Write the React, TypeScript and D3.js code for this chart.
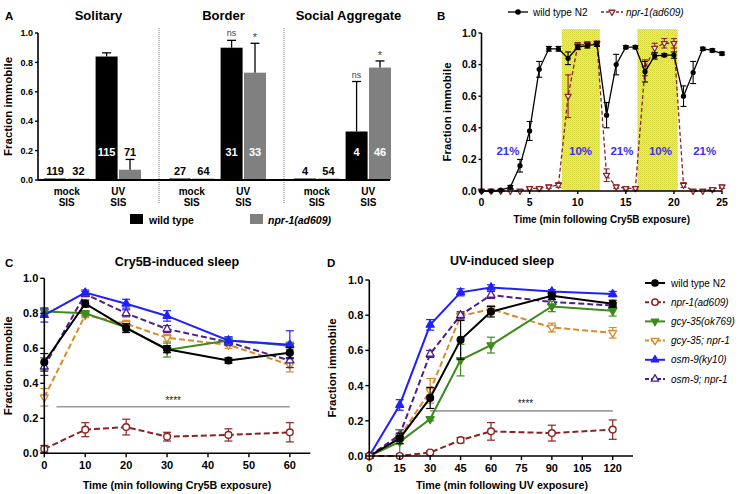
import React from "react";
import * as d3 from "d3";

const FONT = "'Liberation Sans', Arial, Helvetica, sans-serif";

// ---------------- Panel A data ----------------
const aSections = ["Solitary", "Border", "Social Aggregate"];
const aConditions = ["mock", "UV"];
const aGenotypes = ["wild type", "npr-1(ad609)"];
const aWtMean = [0.01, 0.84, 0.01, 0.9, 0.01, 0.33];
const aWtErr = [0, 0.025, 0, 0.05, 0, 0.34];
const aNprMean = [0.01, 0.07, 0.01, 0.73, 0.01, 0.765];
const aNprErr = [0, 0.07, 0, 0.2, 0, 0.045];
const aWtN = [119, 115, 27, 31, 4, 4];
const aNprN = [32, 71, 64, 33, 54, 46];
const aWtSig = ["", "", "", "ns", "", "ns"];
const aNprSig = ["", "", "", "*", "", "*"];
const aTicks = [0, 0.2, 0.4, 0.6, 0.8, 1.0];

// ---------------- Panel B data ----------------
const bTime = [0, 1, 2, 3, 4, 5, 6, 7, 8, 9, 10, 11, 12, 13, 14, 15, 16, 17, 18, 19, 20, 21, 22, 23, 24, 25];
const bWt = [0, 0, 0.005, 0.025, 0.16, 0.38, 0.77, 0.9, 0.9, 0.84, 0.91, 0.92, 0.93, 0.48, 0.8, 0.91, 0.91, 0.755, 0.855, 0.86, 0.86, 0.6, 0.75, 0.9, 0.89, 0.87];
const bWtErr = [0, 0, 0.005, 0.01, 0.04, 0.06, 0.05, 0.015, 0.015, 0.04, 0.015, 0.015, 0.015, 0.08, 0.065, 0.01, 0.01, 0.065, 0.02, 0.01, 0.02, 0.065, 0.07, 0.01, 0.01, 0.01];
const bNpr = [0, 0, 0, 0, 0, 0.017, 0.017, 0.027, 0.038, 0.6, 0.92, 0.93, 0.935, 0.1, 0.027, 0.017, 0.017, 0.78, 0.905, 0.935, 0.935, 0.038, 0, 0, 0.01, 0.027];
const bNprErr = [0, 0, 0, 0, 0, 0.01, 0.01, 0.01, 0.015, 0.135, 0.02, 0.015, 0.015, 0.04, 0.01, 0.01, 0.01, 0.05, 0.03, 0.03, 0.03, 0.015, 0, 0, 0.01, 0.01];
const bHypoxiaStart = [8.35, 16.2];
const bHypoxiaEnd = [12.3, 20.4];
const bPctLabels = ["21%", "10%", "21%", "10%", "21%"];
const bPctTime = [2.75, 10.3, 14.6, 18.6, 23.2];
const bXTicks = [0, 5, 10, 15, 20, 25];
const bNames = ["wild type N2", "npr-1(ad609)"];

// ---------------- Panels C / D data ----------------
const cdNames = ["wild type N2", "npr-1(ad609)", "gcy-35(ok769)", "gcy-35; npr-1", "osm-9(ky10)", "osm-9; npr-1"];

const cTime = [0, 10, 20, 30, 45, 60];
const cWt = [0.52, 0.855, 0.715, 0.595, 0.53, 0.575];
const cWtErr = [0.05, 0.02, 0.025, 0.02, 0.015, 0.03];
const cNpr = [0.025, 0.135, 0.15, 0.095, 0.105, 0.12];
const cNprErr = [0.02, 0.04, 0.045, 0.025, 0.035, 0.055];
const cGcy = [0.81, 0.8, 0.72, 0.59, 0.645, 0.615];
const cGcyErr = [0.02, 0.015, 0.02, 0.04, 0.02, 0.02];
const cGcyNpr = [0.32, 0.79, 0.74, 0.66, 0.62, 0.505];
const cGcyNprErr = [0.05, 0.015, 0.02, 0.02, 0.02, 0.04];
const cOsm = [0.79, 0.918, 0.855, 0.785, 0.645, 0.62];
const cOsmErr = [0.04, 0.015, 0.025, 0.03, 0.02, 0.08];
const cOsmNpr = [0.495, 0.91, 0.8, 0.71, 0.635, 0.53];
const cOsmNprErr = [0.05, 0.015, 0.02, 0.02, 0.02, 0.04];
const cXTicks = [0, 10, 20, 30, 40, 50, 60];
const cSigFrom = 3;
const cSigTo = 60;
const cSigLevel = 0.266;

const dTime = [0, 15, 30, 45, 60, 90, 120];
const dWt = [0, 0.1, 0.33, 0.66, 0.82, 0.91, 0.865];
const dWtErr = [0, 0.03, 0.06, 0.11, 0.03, 0.02, 0.02];
const dNpr = [0, 0, 0.02, 0.09, 0.14, 0.13, 0.15];
const dNprErr = [0, 0, 0.01, 0.015, 0.05, 0.045, 0.055];
const dGcy = [0, 0.08, 0.21, 0.545, 0.63, 0.85, 0.825];
const dGcyErr = [0, 0.07, 0.01, 0.09, 0.045, 0.03, 0.03];
const dGcyNpr = [0, 0.11, 0.37, 0.795, 0.835, 0.73, 0.7];
const dGcyNprErr = [0, 0.04, 0.07, 0.02, 0.02, 0.025, 0.03];
const dOsm = [0, 0.29, 0.745, 0.93, 0.958, 0.935, 0.92];
const dOsmErr = [0, 0.03, 0.03, 0.02, 0.015, 0.01, 0.015];
const dOsmNpr = [0, 0.12, 0.58, 0.8, 0.915, 0.875, 0.855];
const dOsmNprErr = [0, 0.03, 0.02, 0.02, 0.02, 0.015, 0.015];
const dXTicks = [0, 15, 30, 45, 60, 75, 90, 105, 120];
const dSigFrom = 30;
const dSigTo = 120;
const dSigLevel = 0.256;

const yTicks = [0, 0.2, 0.4, 0.6, 0.8, 1.0];

// ---------------- styles ----------------
const RED = "#8B2323";
const cdStyles = [
  { color: "#000000", dash: "", marker: "circle", filled: true, italic: false },
  { color: RED, dash: "6,3", marker: "circle", filled: false, italic: true },
  { color: "#3E8A1E", dash: "", marker: "triDown", filled: true, italic: true },
  { color: "#D98A2B", dash: "6,3", marker: "triDown", filled: false, italic: true },
  { color: "#2020FF", dash: "", marker: "triUp", filled: true, italic: true },
  { color: "#4B1F8E", dash: "6,3", marker: "triUp", filled: false, italic: true },
];
const drawOrder = [3, 5, 2, 4, 0, 1];

function triPath(x: number, y: number, s: number, down: boolean) {
  const h = s * 0.866;
  if (!down) return `M${x},${y - (2 * h) / 3}L${x + s / 2},${y + h / 3}L${x - s / 2},${y + h / 3}Z`;
  return `M${x},${y + (2 * h) / 3}L${x + s / 2},${y - h / 3}L${x - s / 2},${y - h / 3}Z`;
}

function Marker({ kind, filled, color, x, y, s }: any) {
  const fill = filled ? color : "#fff";
  if (kind === "circle")
    return <circle cx={x} cy={y} r={s * 0.42} fill={fill} stroke={color} strokeWidth={1.4} />;
  return <path d={triPath(x, y, s, kind === "triDown")} fill={fill} stroke={color} strokeWidth={1.3} strokeLinejoin="round" />;
}

function ErrBar({ x, y1, y2, w, color, sw = 1.2 }: any) {
  return (
    <g stroke={color} strokeWidth={sw}>
      <line x1={x} x2={x} y1={y1} y2={y2} />
      <line x1={x - w / 2} x2={x + w / 2} y1={y1} y2={y1} />
      <line x1={x - w / 2} x2={x + w / 2} y1={y2} y2={y2} />
    </g>
  );
}

function YAxis({ y, x, ticks, fs, tick = 4, top, bottom }: any) {
  return (
    <g>
      <line x1={x} x2={x} y1={top} y2={bottom} stroke="#000" strokeWidth={1.6} />
      {ticks.map((t: number) => (
        <g key={t}>
          <line x1={x - tick} x2={x} y1={y(t)} y2={y(t)} stroke="#000" strokeWidth={1.4} />
          <text x={x - tick - 2} y={y(t) + fs * 0.36} textAnchor="end" fontSize={fs} fontWeight="bold" fontFamily={FONT}>
            {t.toFixed(1)}
          </text>
        </g>
      ))}
    </g>
  );
}

function XAxis({ x, y0, ticks, fs, tick = 4, left, right }: any) {
  return (
    <g>
      <line x1={left} x2={right} y1={y0} y2={y0} stroke="#000" strokeWidth={1.6} />
      {ticks.map((t: number) => (
        <g key={t}>
          <line x1={x(t)} x2={x(t)} y1={y0} y2={y0 + tick} stroke="#000" strokeWidth={1.4} />
          <text x={x(t)} y={y0 + tick + fs + 1} textAnchor="middle" fontSize={fs} fontWeight="bold" fontFamily={FONT}>
            {t}
          </text>
        </g>
      ))}
    </g>
  );
}

function LinePanel({ x, y, time, series, errs, capW, msize }: any) {
  return (
    <g>
      {drawOrder.map((si) => {
        const st = cdStyles[si];
        const vals: number[] = series[si];
        const line = d3
          .line<number>()
          .x((_, i) => x(time[i]))
          .y((d) => y(d));
        return (
          <g key={si}>
            <path d={line(vals) || ""} fill="none" stroke={st.color} strokeWidth={2} strokeDasharray={st.dash || undefined} />
            {vals.map((v, i) =>
              errs[si][i] > 0 ? (
                <ErrBar key={"e" + i} x={x(time[i])} y1={y(v + errs[si][i])} y2={y(v - errs[si][i])} w={capW} color={st.color} />
              ) : null
            )}
            {vals.map((v, i) => (
              <Marker key={"m" + i} kind={st.marker} filled={st.filled} color={st.color} x={x(time[i])} y={y(v)} s={msize} />
            ))}
          </g>
        );
      })}
    </g>
  );
}

export default function App() {
  // ---------- Panel A ----------
  const yA = d3.scaleLinear().domain([0, 1]).range([180, 33]);
  const xSec = d3.scaleBand<string>().domain(aSections).range([34, 409]);
  const xCond = d3.scaleBand<string>().domain(aConditions).range([10, 107]).paddingInner(0.12);
  const xGen = d3.scaleBand<string>().domain(aGenotypes).range([0, xCond.bandwidth()]).paddingInner(0.06);
  const aMeans = [aWtMean, aNprMean];
  const aErrs = [aWtErr, aNprErr];
  const aNs = [aWtN, aNprN];
  const aSigs = [aWtSig, aNprSig];
  const aFill = ["#000000", "#808080"];

  // ---------- Panel B ----------
  const xB = d3.scaleLinear().domain([0, 25]).range([481.5, 722]);
  const yB = d3.scaleLinear().domain([0, 1]).range([191, 33]);
  const lineB = (vals: number[]) =>
    d3
      .line<number>()
      .x((_, i) => xB(bTime[i]))
      .y((d) => yB(d))(vals) || "";

  // ---------- Panel C ----------
  const xC = d3.scaleLinear().domain([0, 65]).range([44.3, 310.3]);
  const yC = d3.scaleLinear().domain([0, 1]).range([453.3, 278.3]);
  const cSeries = [cWt, cNpr, cGcy, cGcyNpr, cOsm, cOsmNpr];
  const cErrs = [cWtErr, cNprErr, cGcyErr, cGcyNprErr, cOsmErr, cOsmNprErr];

  // ---------- Panel D ----------
  const xD = d3.scaleLinear().domain([0, 130]).range([369.3, 633]);
  const yD = d3.scaleLinear().domain([0, 1]).range([456, 280]);
  const dSeries = [dWt, dNpr, dGcy, dGcyNpr, dOsm, dOsmNpr];
  const dErrs = [dWtErr, dNprErr, dGcyErr, dGcyNprErr, dOsmErr, dOsmNprErr];

  return (
    <svg width={740} height={494} style={{ position: "absolute", left: 0, top: 0, background: "#fff" }} fontFamily={FONT}>
      <defs>
        <pattern id="yel" width={2} height={2} patternUnits="userSpaceOnUse">
          <rect width={2} height={2} fill="#EFEF60" />
          <rect width={1} height={1} fill="#D2D23A" />
          <rect x={1} y={1} width={1} height={1} fill="#DEDE48" />
        </pattern>
      </defs>
      <rect width={740} height={494} fill="#fff" />

      {/* ================= Panel A ================= */}
      <text x={5} y={20} fontSize={11.5} fontWeight="bold">A</text>
      {aSections.map((s) => (
        <text key={s} x={(xSec(s) as number) + xSec.bandwidth() / 2 + 2} y={20} fontSize={13} fontWeight="bold" textAnchor="middle">
          {s}
        </text>
      ))}
      {aSections.slice(1).map((s) => (
        <line key={s} x1={xSec(s) as number} x2={xSec(s) as number} y1={28} y2={204} stroke="#777" strokeWidth={1} strokeDasharray="1,1" />
      ))}
      {aSections.map((s, i) =>
        aConditions.map((c, j) => {
          const idx = i * 2 + j;
          const gx = (xSec(s) as number) + (xCond(c) as number);
          return (
            <g key={s + c}>
              {aGenotypes.map((g, k) => {
                const v = aMeans[k][idx];
                const e = aErrs[k][idx];
                const bx = gx + (xGen(g) as number);
                const bw = xGen.bandwidth();
                const cx = bx + bw / 2;
                const top = yA(v);
                const isUV = c === "UV";
                const labY = isUV ? 156 : top - 4;
                const white = isUV && top < 145;
                return (
                  <g key={g}>
                    <rect x={bx} y={top} width={bw} height={yA(0) - top} fill={aFill[k]} />
                    {e > 0 && (
                      <g stroke="#000" strokeWidth={1.3}>
                        <line x1={cx} x2={cx} y1={top} y2={yA(v + e)} />
                        <line x1={cx - 4.5} x2={cx + 4.5} y1={yA(v + e)} y2={yA(v + e)} />
                      </g>
                    )}
                    {aSigs[k][idx] && (
                      <text x={cx} y={yA(v + e) - (aSigs[k][idx] === "*" ? 2 : 4)} textAnchor="middle" fontSize={aSigs[k][idx] === "*" ? 11 : 9} fill="#444">
                        {aSigs[k][idx]}
                      </text>
                    )}
                    <text x={cx} y={labY} textAnchor="middle" fontSize={11} fontWeight="bold" fill={white ? "#fff" : "#000"}>
                      {aNs[k][idx]}
                    </text>
                  </g>
                );
              })}
              <text x={gx + xCond.bandwidth() / 2} y={195} textAnchor="middle" fontSize={10} fontWeight="bold">{c}</text>
              <text x={gx + xCond.bandwidth() / 2} y={206} textAnchor="middle" fontSize={10} fontWeight="bold">SIS</text>
            </g>
          );
        })
      )}
      <line x1={38} x2={390} y1={yA(0)} y2={yA(0)} stroke="#000" strokeWidth={2} />
      <YAxis y={yA} x={38} ticks={aTicks} fs={9} tick={3} top={yA(1)} bottom={yA(0)} />
      <text transform={`translate(12,${(yA(0) + yA(1)) / 2}) rotate(-90)`} textAnchor="middle" fontSize={11.5} fontWeight="bold">
        Fraction immobile
      </text>
      {aGenotypes.map((g, k) => (
        <g key={g}>
          <rect x={130 + k * 120} y={214} width={13} height={10} fill={aFill[k]} />
          <text x={149 + k * 119} y={223.5} fontSize={10.5} fontWeight="bold" fontStyle={k === 1 ? "italic" : "normal"}>
            {g}
          </text>
        </g>
      ))}

      {/* ================= Panel B ================= */}
      <text x={437} y={20} fontSize={11.5} fontWeight="bold">B</text>
      {bHypoxiaStart.map((s, i) => (
        <rect key={i} x={xB(s)} y={yB(1.025)} width={xB(bHypoxiaEnd[i]) - xB(s)} height={yB(0) - yB(1.025)} fill="url(#yel)" />
      ))}
      {bPctLabels.map((l, i) => (
        <text key={i} x={xB(bPctTime[i])} y={yB(0.255) + 4} textAnchor="middle" fontSize={11.5} fontWeight="bold" fill="#3A30E8">
          {l}
        </text>
      ))}
      <path d={lineB(bNpr)} fill="none" stroke={RED} strokeWidth={1.3} strokeDasharray="4,2.5" />
      {bNpr.map((v, i) =>
        bNprErr[i] > 0 ? <ErrBar key={"ne" + i} x={xB(bTime[i])} y1={yB(v + bNprErr[i])} y2={yB(v - bNprErr[i])} w={6} color={RED} sw={1.1} /> : null
      )}
      {bNpr.map((v, i) => (
        <Marker key={"nm" + i} kind="triDown" filled={false} color={RED} x={xB(bTime[i])} y={yB(v)} s={6} />
      ))}
      <path d={lineB(bWt)} fill="none" stroke="#000" strokeWidth={1.3} />
      {bWt.map((v, i) =>
        bWtErr[i] > 0.008 ? <ErrBar key={"we" + i} x={xB(bTime[i])} y1={yB(v + bWtErr[i])} y2={yB(v - bWtErr[i])} w={6} color="#000" sw={1.1} /> : null
      )}
      {bWt.map((v, i) => (
        <circle key={"wm" + i} cx={xB(bTime[i])} cy={yB(v)} r={2.6} fill="#000" />
      ))}
      <YAxis y={yB} x={481.5} ticks={yTicks} fs={10.5} tick={3} top={yB(1)} bottom={yB(0)} />
      <XAxis x={xB} y0={yB(0)} ticks={bXTicks} fs={10.5} tick={3} left={481.5} right={722} />
      <text x={(xB(0) + xB(25)) / 2} y={222.5} textAnchor="middle" fontSize={10} fontWeight="bold">
        Time (min following Cry5B exposure)
      </text>
      <text transform={`translate(451,${(yB(0) + yB(1)) / 2}) rotate(-90)`} textAnchor="middle" fontSize={11.5} fontWeight="bold">
        Fraction immobile
      </text>
      {/* legend B */}
      <line x1={508} x2={528} y1={12} y2={12} stroke="#000" strokeWidth={1.3} />
      <circle cx={518} cy={12} r={2.8} fill="#000" />
      <text x={533} y={15.5} fontSize={10}>{bNames[0]}</text>
      <line x1={601} x2={623} y1={12} y2={12} stroke={RED} strokeWidth={1.3} strokeDasharray="3,2" />
      <Marker kind="triDown" filled={false} color={RED} x={612} y={12} s={6} />
      <text x={626} y={15.5} fontSize={10} fontStyle="italic">{bNames[1]}</text>

      {/* ================= Panel C ================= */}
      <text x={5} y={267} fontSize={11.5} fontWeight="bold">C</text>
      <text x={177} y={266} textAnchor="middle" fontSize={12.5} fontWeight="bold">Cry5B-induced sleep</text>
      <line x1={xC(cSigFrom)} x2={xC(cSigTo)} y1={yC(cSigLevel)} y2={yC(cSigLevel)} stroke="#999" strokeWidth={1.3} />
      <text x={xC((cSigFrom + cSigTo) / 2)} y={yC(cSigLevel) - 3} textAnchor="middle" fontSize={10} fill="#222">****</text>
      <LinePanel x={xC} y={yC} time={cTime} series={cSeries} errs={cErrs} capW={8} msize={8} />
      <YAxis y={yC} x={44.3} ticks={yTicks} fs={11} tick={4} top={yC(1)} bottom={yC(0)} />
      <XAxis x={xC} y0={yC(0)} ticks={cXTicks} fs={11} tick={4} left={44.3} right={310.3} />
      <text x={177} y={489} textAnchor="middle" fontSize={10.7} fontWeight="bold">Time (min following Cry5B exposure)</text>
      <text transform={`translate(12,${(yC(0) + yC(1)) / 2}) rotate(-90)`} textAnchor="middle" fontSize={11.5} fontWeight="bold">
        Fraction immobile
      </text>

      {/* ================= Panel D ================= */}
      <text x={327} y={267} fontSize={11.5} fontWeight="bold">D</text>
      <text x={502} y={265} textAnchor="middle" fontSize={12.5} fontWeight="bold">UV-induced sleep</text>
      <line x1={xD(dSigFrom)} x2={xD(dSigTo)} y1={yD(dSigLevel)} y2={yD(dSigLevel)} stroke="#555" strokeWidth={1} />
      <text x={xD(77)} y={yD(dSigLevel) - 4} textAnchor="middle" fontSize={10} fill="#222">****</text>
      <LinePanel x={xD} y={yD} time={dTime} series={dSeries} errs={dErrs} capW={8} msize={8} />
      <YAxis y={yD} x={369.3} ticks={yTicks} fs={11} tick={4} top={yD(1)} bottom={yD(0)} />
      <XAxis x={xD} y0={yD(0)} ticks={dXTicks} fs={11} tick={4} left={369.3} right={633} />
      <text x={502} y={489} textAnchor="middle" fontSize={10.7} fontWeight="bold">Time (min following UV exposure)</text>
      <text transform={`translate(336,${(yD(0) + yD(1)) / 2}) rotate(-90)`} textAnchor="middle" fontSize={11.5} fontWeight="bold">
        Fraction immobile
      </text>

      {/* legend C/D */}
      {cdNames.map((n, i) => {
        const st = cdStyles[i];
        const ly = 283 + i * 19.2;
        return (
          <g key={n}>
            <line x1={645} x2={665} y1={ly} y2={ly} stroke={st.color} strokeWidth={2} strokeDasharray={st.dash ? "4,2" : undefined} />
            <Marker kind={st.marker} filled={st.filled} color={st.color} x={655} y={ly} s={7.5} />
            <text x={671} y={ly + 3.6} fontSize={10} fontStyle={st.italic ? "italic" : "normal"}>
              {n}
            </text>
          </g>
        );
      })}
    </svg>
  );
}
